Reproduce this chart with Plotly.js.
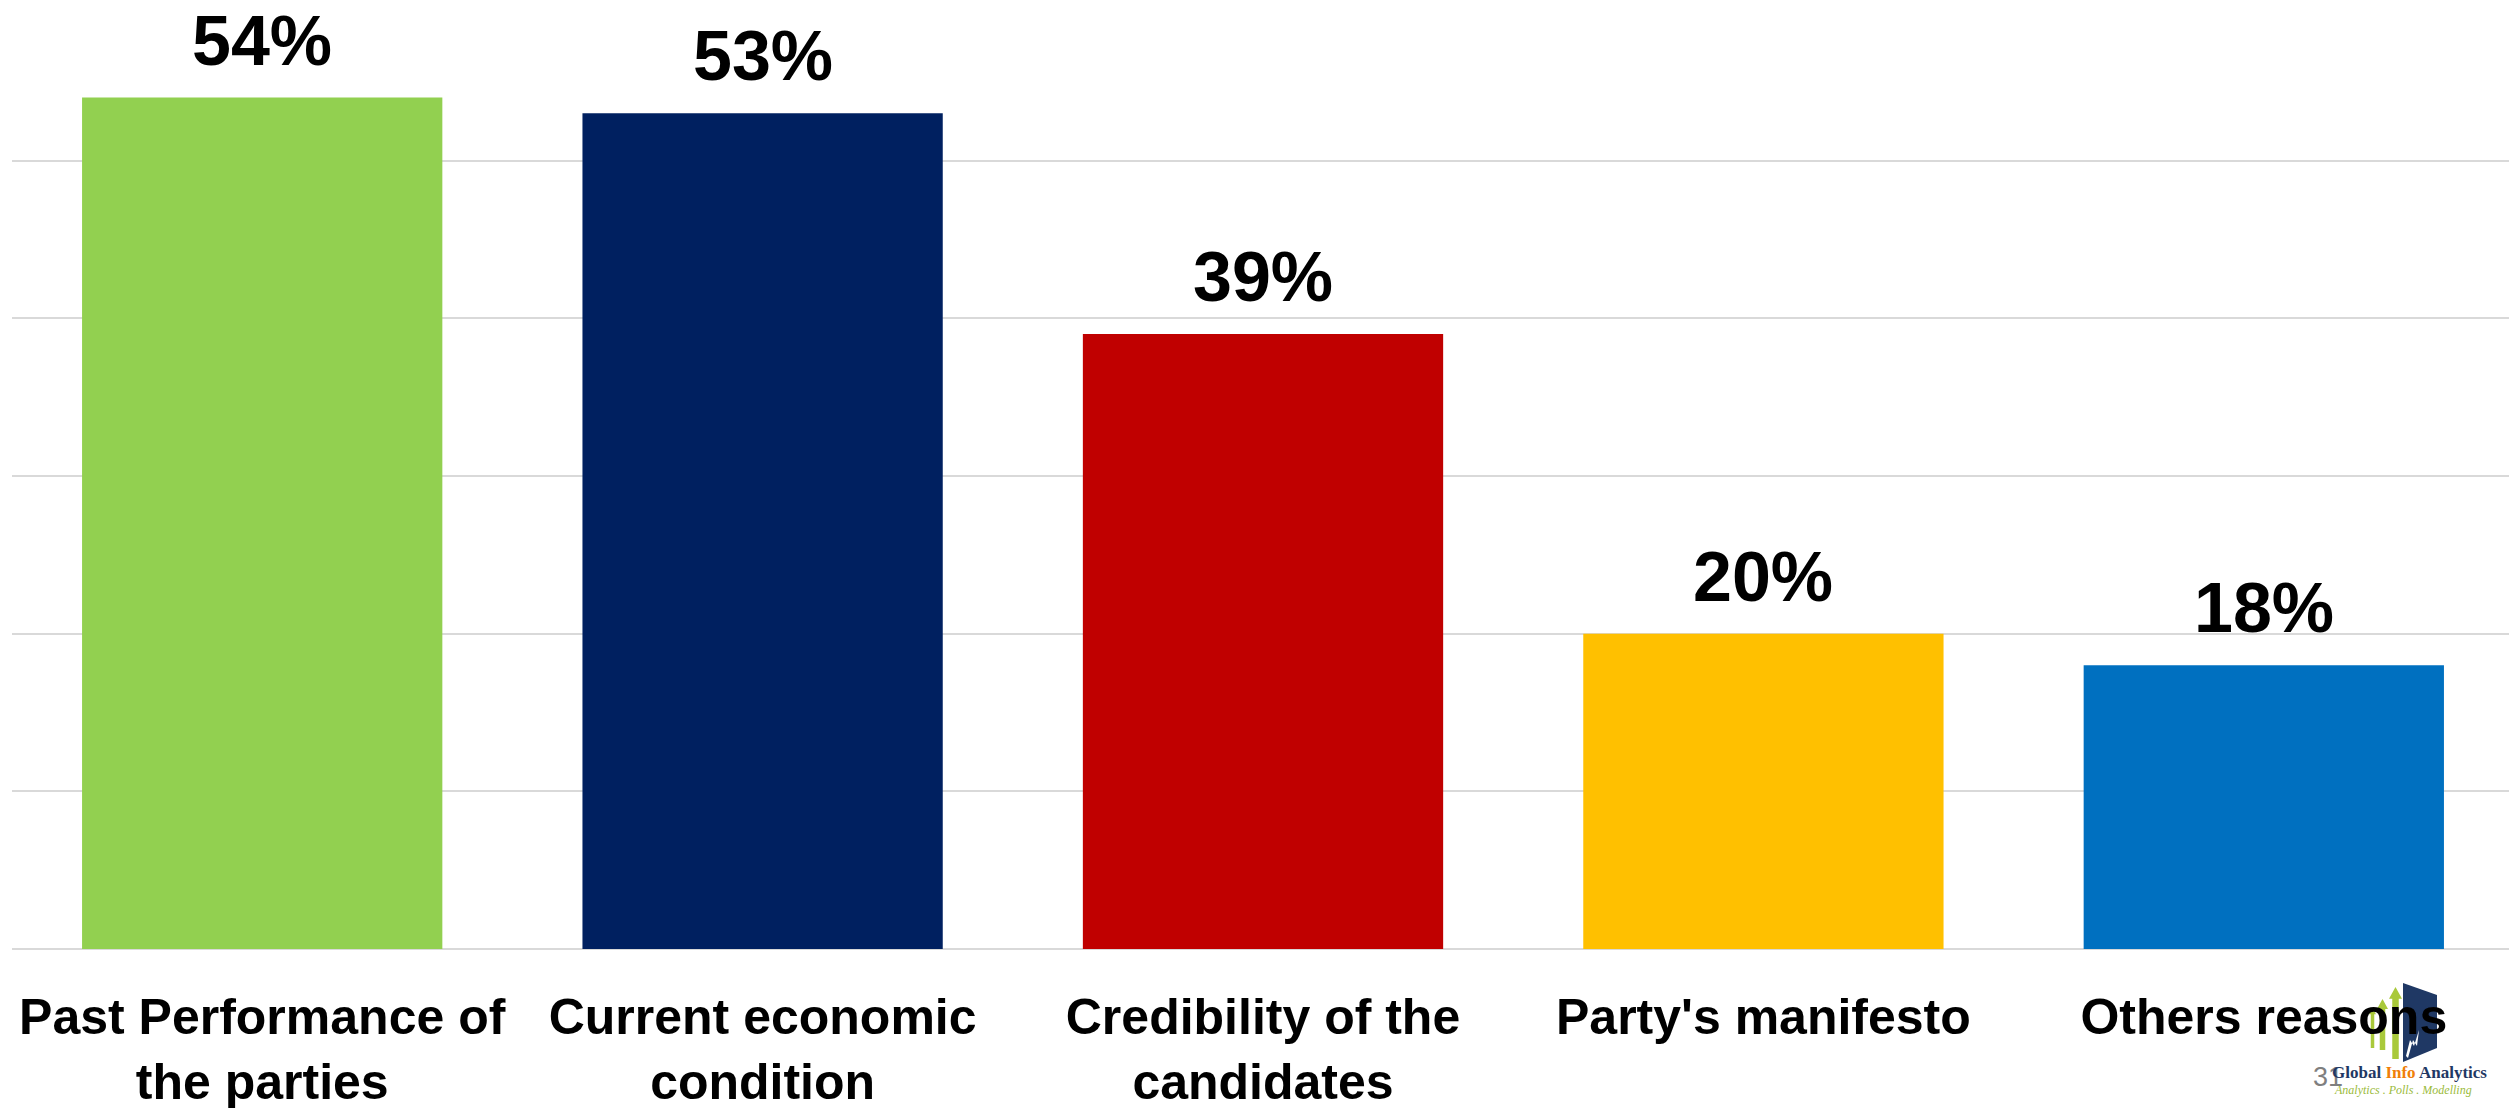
<!DOCTYPE html>
<html>
<head>
<meta charset="utf-8">
<script src="https://cdn.plot.ly/plotly-3.0.1.min.js"></script>
<style>
html,body{margin:0;padding:0;background:#fff;}
#chart{width:2509px;height:1108px;}
</style>
</head>
<body>
<div id="chart"></div>
<script>
const categories = ["Past Performance of<br>the parties", "Current economic<br>condition", "Credibility of the<br>candidates", "Party's manifesto", "Others reasons"];
const values = [54, 53, 39, 20, 18];
const valueLabels = ["54%", "53%", "39%", "20%", "18%"];
const barColors = ["#92D050", "#002060", "#C00000", "#FFC000", "#0070C0"];
const pageNumber = "31";
const brandName = "Global Info Analytics";
const brandTagline = "Analytics . Polls . Modelling";

const FONT = "Liberation Sans, Arial, sans-serif";

const trace = {
  type: "bar",
  x: categories,
  y: values,
  marker: {color: barColors, line: {width: 0}},
  hoverinfo: "skip",
  showlegend: false
};

// helpers to place decorative items in paper coordinates from pixel positions
const PL = 12, PW = 2497, PB = 949, PH = 946;
function px(xp){ return (xp - PL) / PW; }
function py(yp){ return (PB - yp) / PH; }

const annotations = categories.map((c, i) => ({
  x: c, y: values[i], xref: "x", yref: "y",
  text: valueLabels[i],
  showarrow: false,
  yanchor: "bottom",
  yshift: 16,
  font: {family: FONT, size: 70, color: "#000", weight: "bold"}
}));

annotations.push(
  {xref: "paper", yref: "paper", x: px(2328), y: py(1077), text: pageNumber, showarrow: false,
   font: {family: FONT, size: 27, color: "#7f7f7f"}, xanchor: "center", yanchor: "middle"},
  {xref: "paper", yref: "paper", x: px(2409), y: py(1072),
   text: "<span style='color:#1F3864'>Global </span><span style='color:#F07F09'>Info</span><span style='color:#1F3864'> Analytics</span>",
   showarrow: false, font: {family: "Liberation Serif, serif", size: 17, color: "#1F3864", weight: "bold"},
   xanchor: "center", yanchor: "middle"},
  {xref: "paper", yref: "paper", x: px(2403), y: py(1090),
   text: "<i>" + brandTagline + "</i>", showarrow: false,
   font: {family: "Liberation Serif, serif", size: 12, color: "#9BBB3B"},
   xanchor: "center", yanchor: "middle"}
);

function arrowPath(x0, x1, yTop, yBot){
  const xm = (x0 + x1) / 2, w = (x1 - x0);
  const head = yTop + w * 0.9;
  const sx0 = x0 + w * 0.25, sx1 = x1 - w * 0.25;
  return `M ${px(sx0)} ${py(yBot)} L ${px(sx0)} ${py(head)} L ${px(x0)} ${py(head)} L ${px(xm)} ${py(yTop)} L ${px(x1)} ${py(head)} L ${px(sx1)} ${py(head)} L ${px(sx1)} ${py(yBot)} Z`;
}

const shapes = [
  {type: "path", xref: "paper", yref: "paper",
   path: `M ${px(2403)} ${py(983)} L ${px(2437)} ${py(995)} L ${px(2437)} ${py(1048)} L ${px(2403)} ${py(1062)} Z`,
   fillcolor: "#1F3864", line: {width: 0}, layer: "below"},
  {type: "path", xref: "paper", yref: "paper",
   path: `M ${px(2406)} ${py(1056)} L ${px(2410)} ${py(1040)} L ${px(2414)} ${py(1046)} L ${px(2419)} ${py(1030)} L ${px(2417)} ${py(1046)} L ${px(2413)} ${py(1040)} L ${px(2408)} ${py(1058)} Z`,
   fillcolor: "#ffffff", line: {width: 0}, layer: "below"},
  {type: "path", xref: "paper", yref: "paper", path: arrowPath(2389, 2402, 987, 1059),
   fillcolor: "#A9C93A", line: {width: 0}, layer: "below"},
  {type: "path", xref: "paper", yref: "paper", path: arrowPath(2377, 2388, 999, 1050),
   fillcolor: "#A9C93A", line: {width: 0}, layer: "below"},
  {type: "path", xref: "paper", yref: "paper", path: arrowPath(2369, 2376, 1008, 1048),
   fillcolor: "#A9C93A", line: {width: 0}, layer: "below"}
];

const layout = {
  width: 2509, height: 1108,
  margin: {l: 12, r: 0, t: 3, b: 159, pad: 0},
  paper_bgcolor: "#ffffff",
  plot_bgcolor: "#ffffff",
  bargap: 0.28,
  font: {family: FONT, color: "#000"},
  xaxis: {
    type: "category",
    range: [-0.5, 4.49],
    showgrid: false,
    showline: false,
    zeroline: false,
    ticks: "",
    ticklabelstandoff: 34,
    tickfont: {family: FONT, size: 50, color: "#000", weight: "bold"},
    fixedrange: true
  },
  yaxis: {
    range: [0, 60],
    dtick: 10,
    showgrid: true,
    gridcolor: "#d9d9d9",
    gridwidth: 2,
    zeroline: true,
    zerolinecolor: "#d9d9d9",
    zerolinewidth: 2,
    showticklabels: false,
    ticks: "",
    showline: false,
    fixedrange: true
  },
  annotations: annotations,
  shapes: shapes
};

Plotly.newPlot("chart", [trace], layout, {displayModeBar: false, staticPlot: true});
</script>
</body>
</html>
